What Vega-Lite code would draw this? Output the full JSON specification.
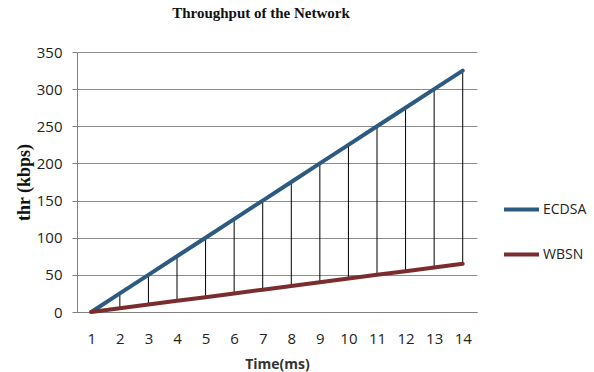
{
  "$schema": "https://vega.github.io/schema/vega-lite/v6.json",
  "width": 400,
  "height": 260,
  "autosize": {"type": "none"},
  "padding": {"left": 77, "top": 52, "right": 117, "bottom": 60},
  "background": "white",
  "title": {
    "text": "Throughput of the Network",
    "font": "Liberation Serif",
    "fontSize": 15,
    "fontWeight": "bold",
    "color": "#111111",
    "anchor": "middle",
    "dx": -16,
    "offset": 24
  },
  "data": {
    "values": [
      {"t": 1, "ECDSA": 0, "WBSN": 0},
      {"t": 2, "ECDSA": 25, "WBSN": 5},
      {"t": 3, "ECDSA": 50, "WBSN": 10},
      {"t": 4, "ECDSA": 75, "WBSN": 15},
      {"t": 5, "ECDSA": 100, "WBSN": 20},
      {"t": 6, "ECDSA": 125, "WBSN": 25},
      {"t": 7, "ECDSA": 150, "WBSN": 30},
      {"t": 8, "ECDSA": 175, "WBSN": 35},
      {"t": 9, "ECDSA": 200, "WBSN": 40},
      {"t": 10, "ECDSA": 225, "WBSN": 45},
      {"t": 11, "ECDSA": 250, "WBSN": 50},
      {"t": 12, "ECDSA": 275, "WBSN": 55},
      {"t": 13, "ECDSA": 300, "WBSN": 60},
      {"t": 14, "ECDSA": 325, "WBSN": 65}
    ]
  },
  "config": {
    "view": {"stroke": null},
    "axis": {
      "labelFont": "Open Sans",
      "labelColor": "#222222",
      "domainColor": "#808080",
      "tickColor": "#808080",
      "gridColor": "#8c8c8c",
      "gridOpacity": 1,
      "domainWidth": 1,
      "tickWidth": 1,
      "gridWidth": 1
    },
    "axisY": {
      "titleFont": "Liberation Serif",
      "titleFontWeight": "bold",
      "titleFontSize": 18,
      "titleColor": "#111111",
      "titleX": -53,
      "titleY": 130,
      "titleAngle": -90,
      "titleAlign": "center",
      "titleBaseline": "middle",
      "labelFontSize": 15,
      "labelPadding": 10,
      "tickSize": 5,
      "grid": true,
      "domain": true
    },
    "axisX": {
      "titleFont": "Open Sans",
      "titleFontWeight": "bold",
      "titleFontSize": 14,
      "titleColor": "#333333",
      "titleY": 52,
      "titleBaseline": "middle",
      "labelFontSize": 15,
      "labelAngle": 0,
      "labelPadding": 19,
      "ticks": false,
      "tickSize": 0,
      "grid": false
    }
  },
  "layer": [
    {
      "mark": {"type": "rule", "color": "#000000", "strokeWidth": 1},
      "encoding": {
        "x": {
          "field": "t",
          "type": "ordinal",
          "scale": {"type": "point", "padding": 0.5},
          "axis": {"title": "Time(ms)"}
        },
        "y": {
          "field": "ECDSA",
          "type": "quantitative",
          "scale": {"domain": [0, 350]},
          "axis": {"title": "thr (kbps)", "values": [0, 50, 100, 150, 200, 250, 300, 350]}
        },
        "y2": {"field": "WBSN"}
      }
    },
    {
      "transform": [{"fold": ["ECDSA", "WBSN"], "as": ["series", "thr"]}],
      "mark": {"type": "line", "strokeWidth": 4, "strokeCap": "round"},
      "encoding": {
        "x": {
          "field": "t",
          "type": "ordinal",
          "scale": {"type": "point", "padding": 0.5},
          "axis": {"title": "Time(ms)"}
        },
        "y": {
          "field": "thr",
          "type": "quantitative",
          "scale": {"domain": [0, 350]},
          "axis": {"title": "thr (kbps)", "values": [0, 50, 100, 150, 200, 250, 300, 350]}
        },
        "color": {
          "field": "series",
          "type": "nominal",
          "scale": {"domain": ["ECDSA", "WBSN"], "range": ["#2C5A80", "#7B2C2E"]},
          "legend": {
            "title": null,
            "orient": "none",
            "legendX": 425,
            "legendY": 138,
            "symbolType": "stroke",
            "symbolSize": 1225,
            "symbolStrokeWidth": 4,
            "labelFont": "Open Sans",
            "labelFontSize": 14,
            "labelColor": "#222222",
            "labelOffset": 2,
            "rowPadding": 17
          }
        }
      }
    }
  ]
}
